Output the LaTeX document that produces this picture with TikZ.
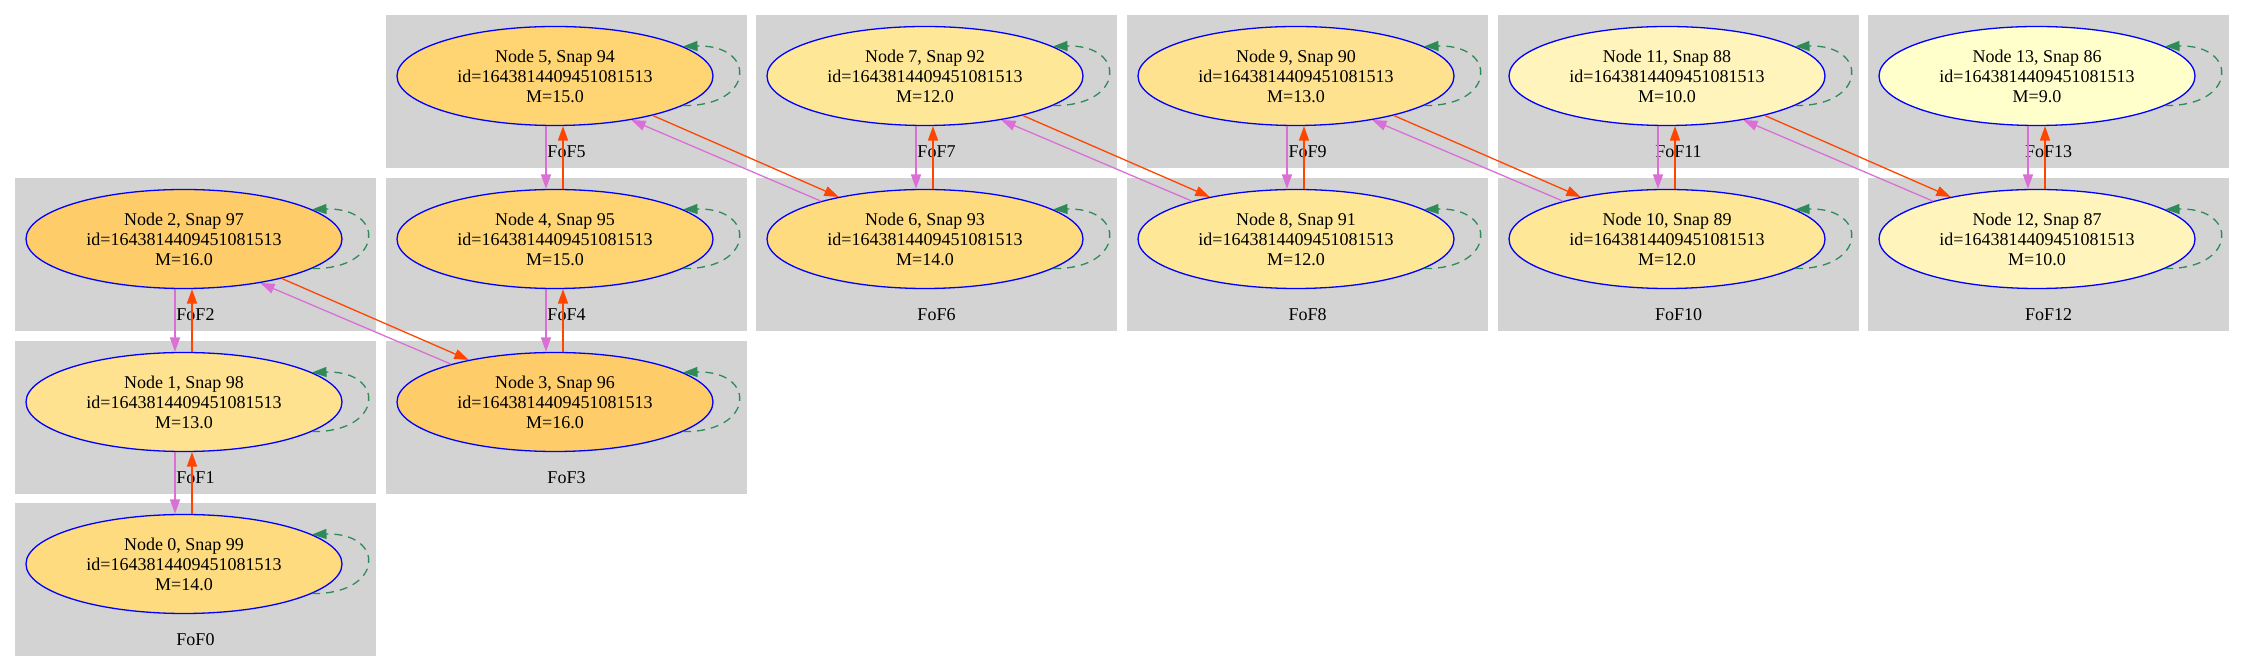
\documentclass[tikz,border=0pt]{standalone}
\usepackage{fontspec}
\setmainfont{Liberation Serif}
\usetikzlibrary{shapes.geometric,arrows.meta,calc}
\definecolor{cA}{HTML}{FECC69}
\definecolor{cB}{HTML}{FED572}
\definecolor{cC}{HTML}{FEDB7E}
\definecolor{cD}{HTML}{FEE28F}
\definecolor{cE}{HTML}{FEE898}
\definecolor{cF}{HTML}{FFF4BB}
\definecolor{cG}{HTML}{FFFFCC}
\definecolor{gvgrey}{HTML}{D3D3D3}
\definecolor{gvorchid}{HTML}{DA70D6}
\definecolor{gvorange}{HTML}{FF4500}
\definecolor{gvgreen}{HTML}{2E8B57}
\definecolor{gvblue}{HTML}{0000FF}
\begin{document}
\begin{tikzpicture}[x=0.5pt,y=-0.5pt,
  fofnode/.style={ellipse, draw=gvblue, line width=0.65pt, minimum width=158pt,
    minimum height=49.5pt, inner sep=0pt, align=center,
    font=\fontsize{9pt}{10pt}\selectfont},
  clusterbox/.style={fill=gvgrey},
  foflabel/.style={inner sep=0pt, font=\fontsize{9pt}{10pt}\selectfont},
  tip/.style={-{Triangle[length=7.2pt,width=5pt]}},
  vio/.style={draw=gvorchid, line width=0.65pt, tip},
  ora/.style={draw=gvorange, line width=0.65pt, tip},
  selfloop/.style={draw=gvgreen, line width=0.65pt, dash pattern=on 4pt off 3pt, tip}
]
\useasboundingbox (0,0) rectangle (2245,672);
\foreach \i/\x/\y/\c/\s/\m in {
  0/184/564/cC/99/14.0,
  1/184/402/cD/98/13.0,
  2/184/239/cA/97/16.0,
  3/555/402/cA/96/16.0,
  4/555/239/cB/95/15.0,
  5/555/76/cB/94/15.0,
  6/925/239/cC/93/14.0,
  7/925/76/cE/92/12.0,
  8/1296/239/cE/91/12.0,
  9/1296/76/cD/90/13.0,
  10/1667/239/cE/89/12.0,
  11/1667/76/cF/88/10.0,
  12/2037/239/cF/87/10.0,
  13/2037/76/cG/86/9.0}{
  \fill[clusterbox] (\x-169,\y-61) rectangle (\x+192,\y+92);
  \node[foflabel] (l\i) at (\x+11.5,\y+76) {FoF\i};
  \node[fofnode, fill=\c] (n\i) at (\x,\y) {Node \i, Snap \s\\id=1643814409451081513\\M=\m};
}
% self loops
\foreach \i in {0,...,13}{
  \draw[selfloop] (n\i.-13) .. controls +(72,1) and +(74,-2) .. (n\i.13);
}
% vertical pairs: upper/lower
\foreach \u/\l in {2/1,1/0,5/4,4/3,7/6,9/8,11/10,13/12}{
  \draw[vio] ($(n\u.south)+(-9,0)$) -- ($(n\l.north)+(-9,0)$);
  \draw[ora] ($(n\l.north)+(8,0)$) -- ($(n\u.south)+(8,0)$);
}
% diagonal pairs: upper-left / lower-right
\foreach \a/\b in {2/3,5/6,7/8,9/10,11/12}{
  \draw[ora] (n\a.-22.5) -- (n\b.154.5);
  \draw[vio] (n\b.160) -- (n\a.-30);
}
\end{tikzpicture}
\end{document}
